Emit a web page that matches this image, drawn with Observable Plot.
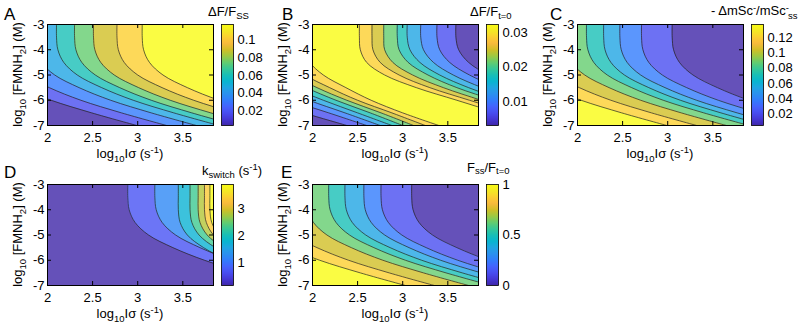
<!DOCTYPE html>
<html><head><meta charset="utf-8">
<script src="https://cdn.jsdelivr.net/npm/d3@7"></script>
<script src="https://cdn.jsdelivr.net/npm/@observablehq/plot@0.6"></script>
<style>
body{margin:0;background:#fff}
#fig{position:relative;width:800px;height:326px;overflow:hidden;background:#fff;font-family:"Liberation Sans",Arial,sans-serif}
#fig > *{position:absolute}
</style></head><body><div id="fig"></div>
<script>
// ---------- data ----------
// rows (log10 [FMNH2]) at which each contour line's x position (log10 I sigma) was read
const rowY = [-3, -3.5, -4, -4.5, -5, -5.5, -6, -6.5, -7];
const xDomain = [2, 3.84];
const yDomain = [-7, -3];
const xTicks = [2, 2.5, 3, 3.5];
const yTicks = [-7, -6, -5, -4, -3];

// A: dF/Fss  (contour lines from left to right, with their levels)
const levelsA = [0.0125, 0.025, 0.0375, 0.05, 0.0625, 0.075, 0.0875, 0.1];
const linesA = [
  [1.19, 1.19, 1.205, 1.27, 1.42, 1.69, 2.04, 2.49, 2.99],
  [1.52, 1.52, 1.535, 1.6, 1.75, 2.02, 2.37, 2.82, 3.32],
  [1.85, 1.85, 1.865, 1.93, 2.08, 2.35, 2.7, 3.15, 3.65],
  [2.1, 2.1, 2.115, 2.18, 2.33, 2.6, 2.95, 3.4, 3.9],
  [2.3, 2.3, 2.315, 2.38, 2.53, 2.8, 3.15, 3.6, 4.1],
  [2.51, 2.51, 2.525, 2.59, 2.74, 3.01, 3.36, 3.81, 4.31],
  [2.77, 2.77, 2.785, 2.85, 3.0, 3.27, 3.62, 4.07, 4.57],
  [3.05, 3.05, 3.065, 3.13, 3.28, 3.55, 3.9, 4.35, 4.85]
];
const cbarA = [0.003, 0.118];
const cbTicksA = [0.02, 0.04, 0.06, 0.08, 0.1];

// B: dF/F(t=0)
const levelsB = [0.0065, 0.01, 0.0135, 0.017, 0.0205, 0.024, 0.0275, 0.031,
                 0.031, 0.0275, 0.024, 0.0205, 0.017, 0.0135, 0.01, 0.0065];
const linesB = [
  [0.6, 0.6, 0.615, 0.68, 0.83, 1.1, 1.45, 1.9, 2.38],
  [0.9, 0.9, 0.915, 0.98, 1.13, 1.4, 1.75, 2.18, 2.6],
  [1.12, 1.12, 1.135, 1.2, 1.35, 1.62, 1.96, 2.36, 2.75],
  [1.28, 1.28, 1.295, 1.36, 1.51, 1.78, 2.12, 2.5, 2.88],
  [1.43, 1.43, 1.445, 1.51, 1.66, 1.93, 2.26, 2.64, 3.0],
  [1.55, 1.55, 1.565, 1.63, 1.78, 2.05, 2.38, 2.76, 3.12],
  [1.69, 1.69, 1.705, 1.77, 1.92, 2.19, 2.5, 2.88, 3.25],
  [1.89, 1.89, 1.905, 1.97, 2.12, 2.37, 2.65, 3.0, 3.4],
  [2.52, 2.52, 2.53, 2.6, 2.8, 3.15, 3.6, 4.05, 4.52],
  [2.66, 2.66, 2.67, 2.75, 2.96, 3.3, 3.74, 4.19, 4.66],
  [2.79, 2.79, 2.8, 2.89, 3.11, 3.45, 3.87, 4.32, 4.79],
  [2.94, 2.94, 2.96, 3.06, 3.28, 3.6, 4.02, 4.47, 4.94],
  [3.05, 3.05, 3.08, 3.19, 3.41, 3.73, 4.13, 4.58, 5.05],
  [3.2, 3.2, 3.23, 3.34, 3.56, 3.88, 4.28, 4.73, 5.2],
  [3.38, 3.38, 3.41, 3.52, 3.74, 4.06, 4.46, 4.91, 5.38],
  [3.59, 3.59, 3.62, 3.73, 3.95, 4.27, 4.67, 5.12, 5.59]
];
const cbarB = [0.003, 0.0325];
const cbTicksB = [0.01, 0.02, 0.03];

// C: -dmSc-/mSc-ss
const levelsC = [0.12, 0.105, 0.09, 0.075, 0.06, 0.045, 0.03, 0.015];
const linesC = [
  [1.19, 1.19, 1.205, 1.27, 1.42, 1.69, 2.04, 2.49, 2.99],
  [1.52, 1.52, 1.535, 1.6, 1.75, 2.02, 2.37, 2.82, 3.32],
  [1.85, 1.85, 1.865, 1.93, 2.08, 2.35, 2.7, 3.15, 3.65],
  [2.1, 2.1, 2.115, 2.18, 2.33, 2.6, 2.95, 3.4, 3.9],
  [2.29, 2.29, 2.305, 2.37, 2.52, 2.79, 3.14, 3.59, 4.09],
  [2.47, 2.47, 2.485, 2.55, 2.7, 2.97, 3.32, 3.77, 4.27],
  [2.71, 2.71, 2.725, 2.79, 2.94, 3.21, 3.56, 4.01, 4.51],
  [3.05, 3.05, 3.065, 3.13, 3.28, 3.55, 3.9, 4.35, 4.85]
];
const cbarC = [0.005, 0.137];
const cbTicksC = [0.02, 0.04, 0.06, 0.08, 0.1, 0.12];

// D: k_switch (s^-1)
const levelsD = [0.5, 1, 1.5, 2, 2.5, 3, 3.5];
const linesD = [
  [2.89, 2.89, 2.905, 2.97, 3.12, 3.39, 3.74, 4.19, 4.69],
  [3.19, 3.19, 3.205, 3.27, 3.42, 3.69, 4.04, 4.49, 4.99],
  [3.45, 3.45, 3.45, 3.47, 3.55, 3.73, 4.0, 4.35, 4.75],
  [3.58, 3.58, 3.58, 3.6, 3.68, 3.86, 4.13, 4.48, 4.88],
  [3.67, 3.67, 3.67, 3.69, 3.77, 3.95, 4.22, 4.57, 4.97],
  [3.74, 3.74, 3.74, 3.76, 3.84, 4.02, 4.29, 4.64, 5.04],
  [3.8, 3.8, 3.8, 3.82, 3.9, 4.08, 4.35, 4.7, 5.1]
];
const cbarD = [0.14, 3.89];
const cbTicksD = [1, 2, 3];

// E: Fss/F(t=0)
const levelsE = [0.9, 0.8, 0.7, 0.6, 0.5, 0.4, 0.3, 0.2];
const linesE = [
  [1.23, 1.23, 1.245, 1.31, 1.46, 1.73, 2.08, 2.53, 3.03],
  [1.55, 1.55, 1.565, 1.63, 1.78, 2.05, 2.4, 2.85, 3.35],
  [1.93, 1.93, 1.945, 2.01, 2.16, 2.43, 2.78, 3.23, 3.73],
  [2.18, 2.18, 2.195, 2.26, 2.41, 2.68, 3.03, 3.48, 3.98],
  [2.36, 2.36, 2.375, 2.44, 2.59, 2.86, 3.21, 3.66, 4.16],
  [2.57, 2.57, 2.585, 2.65, 2.8, 3.07, 3.42, 3.87, 4.37],
  [2.76, 2.76, 2.775, 2.84, 2.99, 3.26, 3.61, 4.06, 4.56],
  [3.1, 3.1, 3.115, 3.18, 3.33, 3.6, 3.95, 4.4, 4.9]
];
const cbarE = [0, 1];
const cbTicksE = [0, 0.5, 1];

// ---------- colour map (parula) ----------
const parulaStops = ["#3e26a8","#4537d5","#484df0","#4563fd","#327cfc","#2b91ef","#20a5e3","#08b5d0",
  "#19bfb6","#37c897","#64cd6f","#9dc943","#d1bf27","#f8ba3d","#fccf30","#f5e924","#f9fb14"];
const parula = d3.piecewise(d3.interpolateRgb, parulaStops);
const parulaSoft = t => d3.interpolateRgb(parula(t), "#ffffff")(0.2);

const FONT = '"Liberation Sans", Arial, sans-serif';
const fig = document.getElementById("fig");

function bandValues(levels) {
  const u = Array.from(new Set(levels)).sort((a, b) => a - b);
  const step = (u[u.length - 1] - u[0]) / (u.length - 1);
  const n = levels.length, out = [];
  out.push(levels.length > 1 && levels[1] > levels[0] ? levels[0] - step : levels[0]);
  for (let k = 0; k < n - 1; k++) out.push(Math.min(levels[k], levels[k + 1]));
  out.push(levels[n - 1] < levels[n - 2] ? levels[n - 1] - step : levels[n - 1]);
  return out;
}

function panel(lines, levels, left, top) {
  const bv = bandValues(levels);
  const bandRows = [];
  bv.forEach((v, k) => rowY.forEach((y, j) => bandRows.push({
    band: k, y, x1: k === 0 ? xDomain[0] : lines[k - 1][j], x2: xDomain[1], v
  })));
  const lineRows = [];
  lines.forEach((arr, i) => arr.forEach((x, j) => lineRows.push({line: i, x, y: rowY[j]})));
  const inX = xTicks.slice(1), inY = yTicks.slice(1, -1);
  const svg = Plot.plot({
    width: 214, height: 145,
    marginLeft: 47, marginRight: 1, marginTop: 24, marginBottom: 20,
    style: {fontFamily: FONT, fontSize: "13px", color: "#000", background: "transparent", overflow: "visible"},
    x: {domain: xDomain, ticks: xTicks, tickSize: 0, tickPadding: 7, tickFormat: d => String(d), label: null},
    y: {domain: yDomain, ticks: yTicks, tickSize: 0, tickPadding: 3, tickFormat: d => String(d), label: null},
    color: {type: "linear", domain: d3.extent(bv), interpolate: parulaSoft},
    marks: [
      Plot.areaX(bandRows, {y: "y", x1: "x1", x2: "x2", z: "band", fill: "v", curve: "catmull-rom", clip: true}),
      Plot.lineX(lineRows, {x: "x", y: "y", z: "line", stroke: "#222", strokeWidth: 0.7, curve: "catmull-rom", clip: true}),
      Plot.ruleX(inX, {x: d => d, y1: yDomain[0], y2: yDomain[0], insetTop: -4, stroke: "#000"}),
      Plot.ruleX(inX, {x: d => d, y1: yDomain[1], y2: yDomain[1], insetBottom: -4, stroke: "#000"}),
      Plot.ruleY(inY, {y: d => d, x1: xDomain[0], x2: xDomain[0], insetRight: -4, stroke: "#000"}),
      Plot.ruleY(inY, {y: d => d, x1: xDomain[1], x2: xDomain[1], insetLeft: -4, stroke: "#000"}),
      Plot.frame({stroke: "#000", strokeWidth: 1})
    ]
  });
  svg.style.left = left + "px"; svg.style.top = top + "px";
  fig.append(svg);
}

function colorbar(cb, ticks, left, top) {
  const svg = Plot.plot({
    width: 58, height: 117,
    marginLeft: 1, marginRight: 45, marginTop: 8, marginBottom: 8,
    style: {fontFamily: FONT, fontSize: "13px", color: "#000", background: "transparent", overflow: "visible"},
    x: {domain: [0, 1], axis: null},
    y: {domain: cb, ticks, axis: "right", tickSize: 0, tickPadding: 4, tickFormat: d => String(d), label: null},
    color: {type: "linear", domain: cb, interpolate: parula},
    marks: [
      Plot.raster({fill: (x, y) => y, x1: 0, x2: 1, y1: cb[0], y2: cb[1], pixelSize: 1}),
      Plot.frame({stroke: "#000", strokeWidth: 0.8})
    ]
  });
  svg.style.left = left + "px"; svg.style.top = top + "px";
  fig.append(svg);
}

const panels = [
  {lines: linesA, levels: levelsA, cb: cbarA, ticks: cbTicksA, c: 0, r: 0},
  {lines: linesB, levels: levelsB, cb: cbarB, ticks: cbTicksB, c: 265, r: 0},
  {lines: linesC, levels: levelsC, cb: cbarC, ticks: cbTicksC, c: 530, r: 0},
  {lines: linesD, levels: levelsD, cb: cbarD, ticks: cbTicksD, c: 0, r: 160},
  {lines: linesE, levels: levelsE, cb: cbarE, ticks: cbTicksE, c: 265, r: 160}
];
panels.forEach(p => {
  panel(p.lines, p.levels, p.c, p.r);
  colorbar(p.cb, p.ticks, p.c + 220, p.r + 16);
});

// ---------- text labels ----------
const S = 'font-size="9.5"';
const xLab = `log<tspan dy="4" ${S}>10</tspan><tspan dy="-4">Iσ (s</tspan><tspan dy="-5" ${S}>-1</tspan><tspan dy="5">)</tspan>`;
const yLab = `log<tspan dy="4" ${S}>10</tspan><tspan dy="-4"> [FMNH</tspan><tspan dy="4" ${S}>2</tspan><tspan dy="-4">] (M)</tspan>`;
const titles = [
  {x: 208, y: 16, t: `ΔF/F<tspan dy="3" ${S}>SS</tspan>`},
  {x: 470, y: 16, t: `ΔF/F<tspan dy="3" ${S}>t=0</tspan>`},
  {x: 711, y: 15, t: `- ΔmSc<tspan dy="-4" ${S}>-</tspan><tspan dy="4">/mSc</tspan><tspan dy="-4" ${S}>-</tspan><tspan dx="-1" dy="8" ${S}>ss</tspan>`},
  {x: 202, y: 175, t: `k<tspan dy="3" ${S}>switch</tspan><tspan dy="-3"> (s</tspan><tspan dy="-5" ${S}>-1</tspan><tspan dy="5">)</tspan>`},
  {x: 467, y: 172, t: `F<tspan dy="2" ${S}>ss</tspan><tspan dy="-2">/F</tspan><tspan dy="2" ${S}>t=0</tspan>`}
];
const letters = [{t: "A", x: 4, y: 19.5}, {t: "B", x: 282, y: 19.5}, {t: "C", x: 550, y: 19.5},
                 {t: "D", x: 4, y: 178}, {t: "E", x: 281, y: 178}];
let ov = `<svg xmlns="http://www.w3.org/2000/svg" width="800" height="326" style="left:0;top:0;pointer-events:none" font-family='${FONT}' fill="#000">`;
letters.forEach(l => ov += `<text x="${l.x}" y="${l.y}" font-size="17">${l.t}</text>`);
titles.forEach(t => ov += `<text x="${t.x}" y="${t.y}" font-size="13">${t.t}</text>`);
panels.forEach(p => {
  ov += `<text x="${p.c + 130}" y="${p.r + 158}" font-size="13" text-anchor="middle">${xLab}</text>`;
  ov += `<text transform="translate(${p.c + 21.5},${p.r + 74.5}) rotate(-90)" font-size="13" text-anchor="middle">${yLab}</text>`;
});
ov += `</svg>`;
fig.insertAdjacentHTML("beforeend", ov);
</script>
</body></html>
